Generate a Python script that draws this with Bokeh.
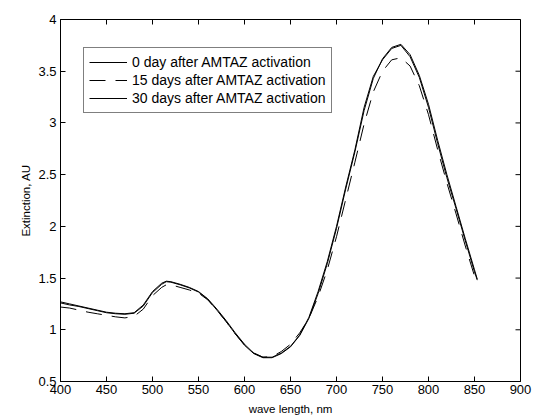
from bokeh.plotting import figure
from bokeh.models import Range1d, FixedTicker, Legend, LegendItem, CustomJSTickFormatter
from bokeh.embed import file_html
from bokeh.resources import INLINE

wavelength = [400, 410, 420, 430, 440, 450, 460, 470, 480, 490, 500, 510, 515, 520,
              530, 540, 550, 560, 570, 580, 590, 600, 610, 620, 630, 640, 650, 660,
              670, 680, 690, 700, 710, 720, 730, 740, 750, 760, 770, 780, 790, 800,
              810, 820, 830, 840, 850, 853]

day0 = [1.27, 1.25, 1.23, 1.21, 1.19, 1.17, 1.16, 1.155, 1.165, 1.24, 1.37, 1.45, 1.47, 1.465,
        1.44, 1.41, 1.37, 1.30, 1.20, 1.09, 0.97, 0.86, 0.775, 0.735, 0.735, 0.775, 0.84, 0.95,
        1.12, 1.37, 1.66, 2.00, 2.38, 2.74, 3.15, 3.45, 3.61, 3.72, 3.75, 3.64, 3.44, 3.15,
        2.80, 2.47, 2.17, 1.86, 1.56, 1.48]

day15 = [1.22, 1.21, 1.19, 1.17, 1.155, 1.14, 1.125, 1.115, 1.13, 1.20, 1.33, 1.41, 1.435, 1.435,
         1.41, 1.385, 1.355, 1.29, 1.19, 1.08, 0.96, 0.855, 0.775, 0.735, 0.74, 0.79, 0.86, 0.97,
         1.11, 1.32, 1.58, 1.90, 2.26, 2.62, 2.99, 3.30, 3.50, 3.61, 3.63, 3.55, 3.36, 3.08,
         2.74, 2.42, 2.12, 1.81, 1.52, 1.46]

day30 = [1.26, 1.24, 1.225, 1.205, 1.185, 1.165, 1.155, 1.15, 1.16, 1.23, 1.36, 1.44, 1.465, 1.46,
         1.435, 1.405, 1.365, 1.295, 1.19, 1.08, 0.96, 0.85, 0.77, 0.73, 0.73, 0.77, 0.835, 0.945,
         1.11, 1.35, 1.64, 1.98, 2.36, 2.72, 3.12, 3.43, 3.62, 3.73, 3.76, 3.66, 3.46, 3.18,
         2.83, 2.50, 2.19, 1.88, 1.58, 1.49]

labels = ["0 day after AMTAZ activation",
          "15 days after AMTAZ activation",
          "30 days after AMTAZ activation"]

x_ticks = [400, 450, 500, 550, 600, 650, 700, 750, 800, 850, 900]
y_ticks = [0.5, 1, 1.5, 2, 2.5, 3, 3.5, 4]

FONT = "Liberation Sans"
X_MIN, X_MAX = 400, 900
Y_MIN, Y_MAX = 0.5, 4

p = figure(frame_width=460, frame_height=362, output_backend="svg",
           toolbar_location=None, x_range=Range1d(X_MIN, X_MAX), y_range=Range1d(Y_MIN, Y_MAX),
           min_border_left=60, min_border_right=14, min_border_top=19, min_border_bottom=36)
p.background_fill_color = "white"
p.border_fill_color = "white"
p.outline_line_color = "black"
p.outline_line_width = 1
p.xgrid.visible = False
p.ygrid.visible = False

r0 = p.line(wavelength, day0, line_color="black", line_width=1)
r15 = p.line(wavelength, day15, line_color="black", line_width=1, line_dash="16 10")
r30 = p.line(wavelength, day30, line_color="black", line_width=1)

# inward ticks on the top and right edges of the box (half of each mark is clipped)
p.scatter(x_ticks, [Y_MAX] * len(x_ticks), marker="dash", size=10, angle=1.5708,
          line_color="black", line_width=1)
p.scatter([X_MAX] * len(y_ticks), y_ticks, marker="dash", size=10,
          line_color="black", line_width=1)

fmt = CustomJSTickFormatter(code="return tick.toString();")

xa = p.xaxis[0]
xa.ticker = FixedTicker(ticks=x_ticks)
ya = p.yaxis[0]
ya.ticker = FixedTicker(ticks=y_ticks)
for ax in (xa, ya):
    ax.formatter = fmt
    ax.major_tick_in = 5
    ax.major_tick_out = 0
    ax.minor_tick_line_color = None
    ax.axis_line_color = "black"
    ax.major_tick_line_color = "black"
    ax.major_label_text_font = FONT
    ax.major_label_text_font_size = "13px"
    ax.major_label_text_color = "black"
    ax.axis_label_text_font = FONT
    ax.axis_label_text_font_size = "11.5px"
    ax.axis_label_text_font_style = "normal"
    ax.axis_label_text_color = "black"

xa.axis_label = "wave length, nm"
xa.major_label_standoff = 3
xa.axis_label_standoff = 6
ya.axis_label = "Extinction, AU"
ya.major_label_standoff = 4
ya.axis_label_standoff = 3

legend = Legend(items=[LegendItem(label=labels[0], renderers=[r0]),
                       LegendItem(label=labels[1], renderers=[r15]),
                       LegendItem(label=labels[2], renderers=[r30])],
                location=(23, 268), orientation="vertical")
legend.label_text_font = FONT
legend.label_text_font_size = "14px"
legend.label_text_color = "black"
legend.glyph_width = 38
legend.glyph_height = 18
legend.label_height = 18
legend.label_standoff = 5
legend.spacing = 0
legend.padding = 5
legend.margin = 0
legend.border_line_color = "black"
legend.border_line_width = 1
legend.background_fill_alpha = 1
p.add_layout(legend, "center")

open("out.html", "w").write(file_html(p, INLINE))
